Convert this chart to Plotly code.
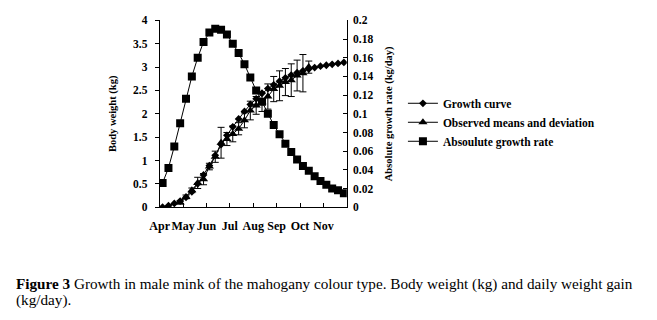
import plotly.graph_objects as go

W, H = 657, 320

# ---- data ----
categories = list(range(32))  # 32 sampling points, Apr..Nov
growth_curve = [0.00, 0.03, 0.08, 0.13, 0.21, 0.33, 0.50, 0.69, 0.89, 1.11,
                1.34, 1.54, 1.72, 1.89, 2.05, 2.20, 2.32, 2.44, 2.54, 2.62,
                2.70, 2.77, 2.83, 2.88, 2.92, 2.96, 2.99, 3.02, 3.04, 3.06,
                3.08, 3.10]
obs_categories = list(range(3, 26))
obs_means = [0.10, 0.22, 0.36, 0.52, 0.60, 0.87, 1.08, 1.38, 1.46, 1.57,
             1.68, 1.86, 2.07, 2.18, 2.25, 2.37, 2.53, 2.60, 2.68, 2.72,
             2.82, 2.87, 3.00]
obs_dev = [0.03, 0.04, 0.05, 0.12, 0.12, 0.07, 0.12, 0.33, 0.14, 0.17,
           0.13, 0.16, 0.20, 0.19, 0.20, 0.27, 0.27, 0.32, 0.29, 0.35,
           0.33, 0.40, 0.13]
abs_rate = [0.026, 0.042, 0.065, 0.090, 0.116, 0.140, 0.160, 0.177, 0.187,
            0.191, 0.190, 0.185, 0.175, 0.165, 0.153, 0.139, 0.125, 0.113,
            0.100, 0.088, 0.078, 0.068, 0.059, 0.051, 0.044, 0.039, 0.033,
            0.028, 0.024, 0.020, 0.018, 0.015]
month_labels = ["Apr", "May", "Jun", "Jul", "Aug", "Sep", "Oct", "Nov"]
left_ticks = [0, 0.5, 1, 1.5, 2, 2.5, 3, 3.5, 4]
right_ticks = [0, 0.02, 0.04, 0.06, 0.08, 0.1, 0.12, 0.14, 0.16, 0.18, 0.2]

FONT = "Liberation Serif"
FS = 11.5

# month boundaries every 4 categories
tick_pos = [i * 4 - 0.5 for i in range(len(month_labels) + 1)]
tick_txt = month_labels + [""]

fig = go.Figure()
fig.add_trace(go.Scatter(
    x=categories, y=growth_curve, name="Growth curve", mode="lines+markers",
    line=dict(color="black", width=1),
    marker=dict(symbol="diamond", size=6, color="black")))
fig.add_trace(go.Scatter(
    x=obs_categories, y=obs_means, name="Observed means and deviation",
    mode="lines+markers", line=dict(color="black", width=1),
    marker=dict(symbol="triangle-up", size=8, color="black"),
    error_y=dict(type="data", array=obs_dev, visible=True, color="black",
                 thickness=1, width=3.5)))
fig.add_trace(go.Scatter(
    x=categories, y=abs_rate, name="Absoulute growth rate", mode="lines+markers",
    line=dict(color="black", width=1),
    marker=dict(symbol="square", size=8, color="black"),
    yaxis="y2"))

x0, x1 = 152 / W, 342 / W
y0, y1 = (H - 209) / H, (H - 15) / H

axis_font = dict(family=FONT, size=FS, color="black", weight="bold")
title_font = dict(family=FONT, size=10.5, color="black", weight="bold")

fig.update_layout(
    width=W, height=H,
    margin=dict(l=0, r=0, t=0, b=0),
    paper_bgcolor="white", plot_bgcolor="white",
    font=dict(family=FONT, size=FS, color="black"),
    showlegend=True,
    legend=dict(x=399 / W, y=(H - 86) / H, xanchor="left", yanchor="top",
                font=dict(family=FONT, size=FS, color="black", weight="bold"),
                itemwidth=30, traceorder="normal",
                bgcolor="rgba(0,0,0,0)"),
    xaxis=dict(domain=[x0, x1], range=[-0.5, 31.5], tickmode="array",
               tickvals=tick_pos, ticktext=tick_txt, ticks="inside", ticklen=4,
               tickcolor="black", showline=True, linecolor="black", linewidth=1,
               showgrid=False, zeroline=False, tickangle=0,
               tickfont=dict(family=FONT, size=12, color="black", weight="bold"),
               ticklabelstandoff=7),
    yaxis=dict(domain=[y0, y1], range=[0, 4], tickmode="array",
               tickvals=left_ticks, ticktext=[f"{v:g}" for v in left_ticks],
               ticks="outside", ticklen=4, tickcolor="black", showline=True,
               linecolor="black", linewidth=1, showgrid=False, zeroline=False,
               tickfont=axis_font, ticklabelstandoff=5,
               title=dict(text="Body weight (kg)", font=title_font, standoff=14)),
    yaxis2=dict(overlaying="y", side="right", anchor="x", range=[0, 0.2],
                tickmode="array", tickvals=right_ticks,
                ticktext=[f"{v:g}" for v in right_ticks],
                ticks="inside", ticklen=4, tickcolor="black", showline=True,
                linecolor="black", linewidth=1, showgrid=False, zeroline=False,
                tickfont=axis_font, ticklabelstandoff=3,
                title=dict(text="Absolute growth rate (kg/day)", font=title_font,
                           standoff=12)),
)

cap_font = dict(family=FONT, size=15.2, color="black")
fig.add_annotation(
    xref="paper", yref="paper", x=4 / W, y=(H - 289) / H,
    xanchor="left", yanchor="middle", align="left", showarrow=False,
    text="<b>Figure 3</b> Growth in male mink of the mahogany colour type. "
         "Body weight (kg) and daily weight gain",
    font=cap_font)
fig.add_annotation(
    xref="paper", yref="paper", x=4 / W, y=(H - 305) / H,
    xanchor="left", yanchor="middle", align="left", showarrow=False,
    text="(kg/day).", font=cap_font)

fig.write_html(
    "out.html",
    config={"displayModeBar": False},
    post_script="document.body.style.margin='0px';")
